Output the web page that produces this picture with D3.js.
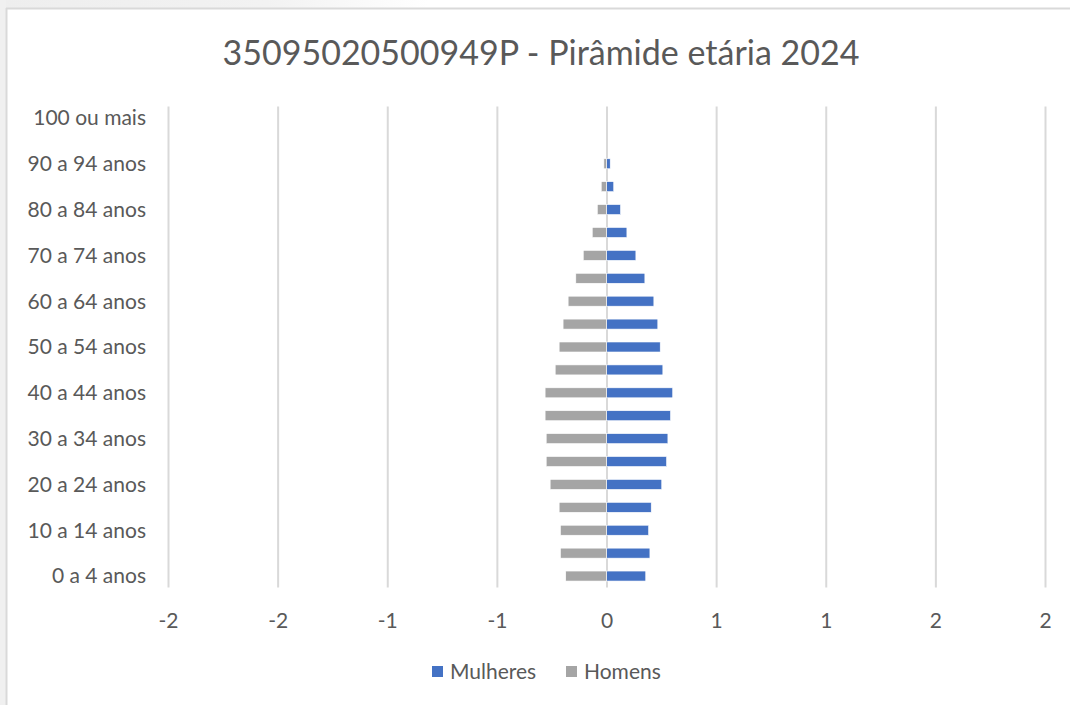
<!DOCTYPE html>
<html>
<head>
<meta charset="utf-8">
<script src="https://cdn.jsdelivr.net/npm/d3@7"></script>
<style>
  html, body { margin: 0; padding: 0; background: #ffffff; }
  svg { display: block; }
  text { font-family: Lato, "Open Sans", "Noto Sans", sans-serif; fill: #595959; }
</style>
</head>
<body>
<svg id="chart" width="1070" height="705"></svg>
<script>
const title = "35095020500949P - Pirâmide etária 2024";
const categories = ["0 a 4 anos","5 a 9 anos","10 a 14 anos","15 a 19 anos","20 a 24 anos","25 a 29 anos","30 a 34 anos","35 a 39 anos","40 a 44 anos","45 a 49 anos","50 a 54 anos","55 a 59 anos","60 a 64 anos","65 a 69 anos","70 a 74 anos","75 a 79 anos","80 a 84 anos","85 a 89 anos","90 a 94 anos","95 a 99 anos","100 ou mais"];
const mulheres = [0.179, 0.198, 0.192, 0.204, 0.252, 0.274, 0.280, 0.292, 0.302, 0.257, 0.245, 0.234, 0.216, 0.175, 0.134, 0.093, 0.064, 0.033, 0.017, 0, 0];
const homens = [-0.186, -0.210, -0.210, -0.216, -0.257, -0.275, -0.275, -0.280, -0.280, -0.234, -0.216, -0.198, -0.175, -0.140, -0.106, -0.065, -0.042, -0.024, -0.012, 0, 0];
const xTicks = [-2, -1.5, -1, -0.5, 0, 0.5, 1, 1.5, 2];
const seriesNames = ["Mulheres", "Homens"];
const seriesColors = ["#4472C4", "#A5A5A5"];

const svg = d3.select("#chart");

// page background outside the chart frame
const defs = svg.append("defs");
const grad = defs.append("linearGradient").attr("id", "topg").attr("x1", "0").attr("x2", "1");
grad.append("stop").attr("offset", "0").attr("stop-color", "#eeeeee");
grad.append("stop").attr("offset", "0.25").attr("stop-color", "#f2f2f2");
grad.append("stop").attr("offset", "0.4").attr("stop-color", "#ffffff");
svg.append("rect").attr("x", 0).attr("y", 0).attr("width", 1070).attr("height", 8).attr("fill", "url(#topg)");
svg.append("rect").attr("x", 0).attr("y", 0).attr("width", 6).attr("height", 705).attr("fill", "#f0f0f0");
// frame
svg.append("line").attr("x1", 6).attr("x2", 1070).attr("y1", 8.5).attr("y2", 8.5).attr("stroke", "#d9d9d9").attr("stroke-width", 2);
svg.append("line").attr("x1", 6.5).attr("x2", 6.5).attr("y1", 8).attr("y2", 705).attr("stroke", "#d9d9d9").attr("stroke-width", 2);

const pLeft = 168, pRight = 1045, pTop = 106.5, pBottom = 587.5;

const x = d3.scaleLinear().domain([-2, 2]).range([pLeft, pRight]);
const y = d3.scaleBand().domain(categories).range([pBottom, pTop]).paddingInner(0.6).paddingOuter(0.3);

// title
svg.append("text").attr("x", 541).attr("y", 65).attr("text-anchor", "middle")
  .style("font-size", "34px").text(title);

// gridlines + x tick labels
const fmt = d => { const r = Math.sign(d) * Math.round(Math.abs(d)); return (r === 0 ? "0" : String(r)); };
const xAxis = d3.axisBottom(x).tickValues(xTicks).tickFormat(fmt).tickSize(-(pBottom - pTop)).tickPadding(0);
const gx = svg.append("g").attr("transform", `translate(0,${pBottom})`).call(xAxis);
gx.select(".domain").remove();
gx.selectAll(".tick line").attr("stroke", "#d9d9d9").attr("stroke-width", 2);
gx.selectAll(".tick text").attr("y", 0).attr("dy", "40px").style("font-size", "21px").attr("fill", "#595959");

// bars
const barH = 10;
const seriesVals = [mulheres, homens];
seriesVals.forEach((vals, si) => {
  svg.append("g").selectAll("rect").data(categories).join("rect")
    .attr("x", (d, i) => x(Math.min(0, vals[i])))
    .attr("width", (d, i) => Math.abs(x(vals[i]) - x(0)))
    .attr("y", d => y(d) + y.bandwidth() / 2 - barH / 2)
    .attr("height", barH)
    .attr("fill", seriesColors[si])
    .attr("stroke", "#ffffff").attr("stroke-width", 0.6);
});

// y labels (every other category)
const yAxis = d3.axisLeft(y).tickValues(categories.filter((d, i) => i % 2 === 0)).tickSize(0).tickPadding(0);
const gy = svg.append("g").attr("transform", `translate(146,0)`).call(yAxis);
gy.select(".domain").remove();
gy.selectAll(".tick text").attr("x", 0).attr("dy", "0.35em").style("font-size", "21px").attr("fill", "#595959");

// legend
const legend = svg.append("g");
const lx = [432, 566];
seriesNames.forEach((n, i) => {
  legend.append("rect").attr("x", lx[i]).attr("y", 666).attr("width", 11).attr("height", 11).attr("fill", seriesColors[i]);
  legend.append("text").attr("x", lx[i] + 18).attr("y", 672).attr("dy", "0.35em").style("font-size", "21px").text(n);
});
</script>
</body>
</html>
